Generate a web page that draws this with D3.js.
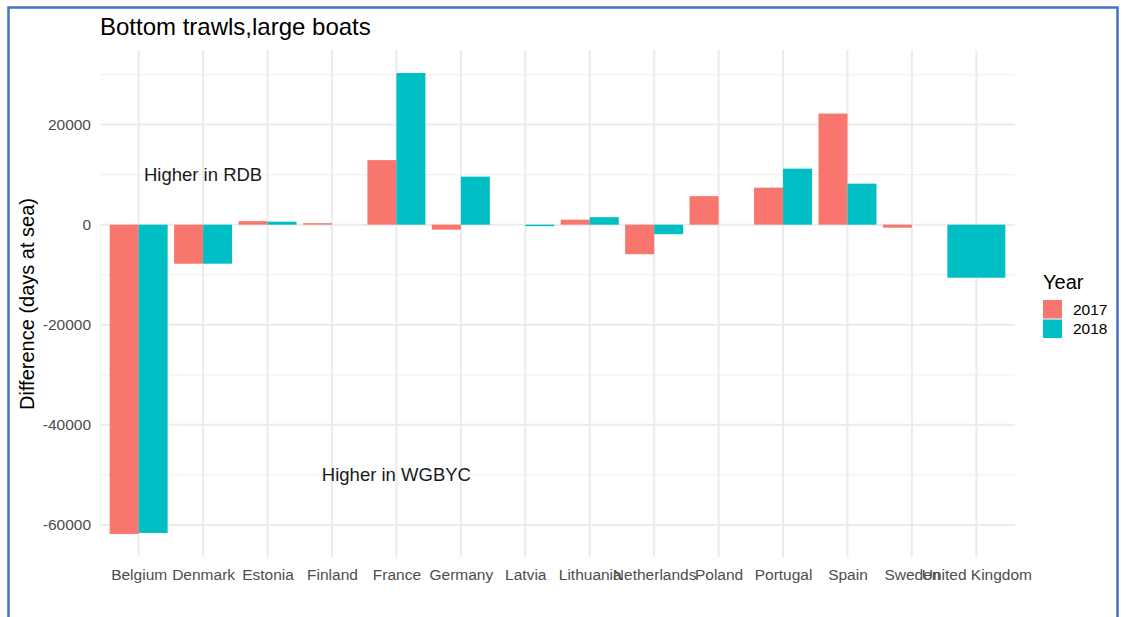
<!DOCTYPE html>
<html>
<head>
<meta charset="utf-8">
<script src="https://cdn.jsdelivr.net/npm/d3@7"></script>
<style>
  html, body { margin: 0; padding: 0; background: #ffffff; }
  svg { display: block; font-family: "Liberation Sans", Arial, sans-serif; }
</style>
</head>
<body>
<svg id="chart" width="1126" height="617"></svg>
<script>
// Difference in days at sea between the two data sources, per country and year
const countries = ["Belgium", "Denmark", "Estonia", "Finland", "France", "Germany", "Latvia",
  "Lithuania", "Netherlands", "Poland", "Portugal", "Spain", "Sweden", "United Kingdom"];
const years = ["2017", "2018"];
const values2017 = [-61800, -7800, 700, 300, 12900, -1000, 0, 1000, -5900, 5700, 7400, 22200, -600, null];
const values2018 = [-61600, -7800, 600, 0, 30300, 9600, -300, 1500, -1900, 0, 11200, 8200, 0, -10600];
const majorTicks = [-60000, -40000, -20000, 0, 20000];
const minorTicks = [-50000, -30000, -10000, 10000, 30000];
const yearColors = ["#F8766D", "#00BFC4"];
const annotations = [
  { label: "Higher in RDB", country: "Denmark", value: 10000 },
  { label: "Higher in WGBYC", country: "France", value: -50000 }
];

const svg = d3.select("#chart");
const panel = { left: 100, right: 1015, top: 50, bottom: 557 };

// Frame around the figure
svg.append("path")
  .attr("d", "M8.5,617 V7.5 H1117.5 V617")
  .attr("fill", "none")
  .attr("stroke", "#4472C4")
  .attr("stroke-width", 2.5);

// Scales: discrete x with 0.6 step of padding each side, y expanded by 5%
const x = d3.scalePoint().domain(countries).range([panel.left, panel.right]).padding(0.6);
const step = x.step();
const allVals = values2017.concat(values2018).filter(v => v !== null);
const lo = d3.min(allVals), hi = d3.max(allVals);
const pad = (hi - lo) * 0.05;
const y = d3.scaleLinear().domain([lo - pad, hi + pad]).range([panel.bottom, panel.top]);
const color = d3.scaleOrdinal().domain(years).range(yearColors);

// Grid
const grid = svg.append("g");
grid.selectAll("line.minor").data(minorTicks).join("line")
  .attr("x1", panel.left).attr("x2", panel.right)
  .attr("y1", d => y(d)).attr("y2", d => y(d))
  .attr("stroke", "#F2F2F2").attr("stroke-width", 1.2);
grid.selectAll("line.major").data(majorTicks).join("line")
  .attr("x1", panel.left).attr("x2", panel.right)
  .attr("y1", d => y(d)).attr("y2", d => y(d))
  .attr("stroke", "#EBEBEB").attr("stroke-width", 2);
grid.selectAll("line.vert").data(countries).join("line")
  .attr("x1", d => x(d)).attr("x2", d => x(d))
  .attr("y1", panel.top).attr("y2", panel.bottom)
  .attr("stroke", "#EBEBEB").attr("stroke-width", 2);

// Bars, dodged by year; a country with one year only gets the full width
const rows = [];
countries.forEach((c, i) => {
  const present = years.filter((yr, j) => (j === 0 ? values2017[i] : values2018[i]) !== null);
  present.forEach((yr, k) => {
    const v = yr === "2017" ? values2017[i] : values2018[i];
    const w = step * 0.9 / present.length;
    rows.push({ country: c, year: yr, value: v, x0: x(c) - step * 0.45 + k * w, w: w });
  });
});
svg.append("g").selectAll("rect").data(rows).join("rect")
  .attr("x", d => d.x0)
  .attr("width", d => d.w)
  .attr("y", d => Math.min(y(d.value), y(0)))
  .attr("height", d => Math.abs(y(d.value) - y(0)))
  .attr("fill", d => color(d.year));

// Y axis labels (plain hyphen for negatives)
const yAxis = svg.append("g")
  .attr("transform", `translate(${panel.left - 9},0)`)
  .call(d3.axisLeft(y).tickValues(majorTicks).tickFormat(d => String(d)).tickSize(0).tickPadding(0));
yAxis.select(".domain").remove();
yAxis.selectAll("text")
  .attr("fill", "#4D4D4D")
  .style("font-size", "15.5px")
  .style("font-family", "'Liberation Sans', Arial, sans-serif");

// X axis labels
const xAxis = svg.append("g")
  .attr("transform", `translate(0,${panel.bottom})`)
  .call(d3.axisBottom(x).tickSize(0).tickPadding(12));
xAxis.select(".domain").remove();
xAxis.selectAll("text")
  .attr("fill", "#4D4D4D")
  .style("font-size", "15.5px")
  .style("font-family", "'Liberation Sans', Arial, sans-serif");

// Axis title
svg.append("text")
  .attr("transform", "translate(34,304) rotate(-90)")
  .attr("text-anchor", "middle")
  .style("font-size", "20px")
  .attr("fill", "#000")
  .text("Difference (days at sea)");

// Plot title
svg.append("text")
  .attr("x", 100).attr("y", 35)
  .style("font-size", "24px")
  .attr("fill", "#000")
  .text("Bottom trawls,large boats");

// Annotations
svg.append("g").selectAll("text").data(annotations).join("text")
  .attr("x", d => x(d.country))
  .attr("y", d => y(d.value))
  .attr("dy", "0.35em")
  .attr("text-anchor", "middle")
  .style("font-size", "18.5px")
  .attr("fill", "#1a1a1a")
  .text(d => d.label);

// Legend
const legend = svg.append("g").attr("transform", "translate(1043,0)");
legend.append("text")
  .attr("x", 0).attr("y", 289)
  .style("font-size", "20px")
  .attr("fill", "#000")
  .text("Year");
years.forEach((yr, i) => {
  legend.append("rect")
    .attr("x", 0).attr("y", 300 + i * 19.5)
    .attr("width", 19).attr("height", 18.5)
    .attr("fill", color(yr));
  legend.append("text")
    .attr("x", 30).attr("y", 309.5 + i * 19.5)
    .attr("dy", "0.35em")
    .style("font-size", "15.5px")
    .attr("fill", "#000")
    .text(yr);
});
</script>
</body>
</html>
